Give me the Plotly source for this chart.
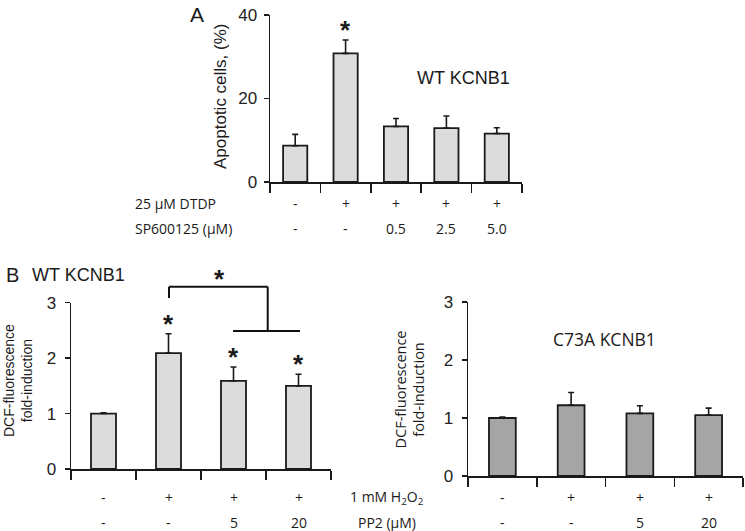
import plotly.graph_objects as go

W, H = 745, 531

# ---------------- data ----------------
a_values = [8.7, 30.8, 13.3, 12.9, 11.6]
a_err = [2.7, 3.2, 1.9, 2.9, 1.4]
a_sig = [False, True, False, False, False]
a_dtdp = ["-", "+", "+", "+", "+"]
a_sp = ["-", "-", "0.5", "2.5", "5.0"]
a_yticks = [0, 20, 40]

wt_values = [1.0, 2.09, 1.59, 1.50]
wt_err = [0.015, 0.35, 0.25, 0.21]
wt_sig = [False, True, True, True]

c73_values = [1.0, 1.22, 1.08, 1.05]
c73_err = [0.015, 0.22, 0.13, 0.12]

b_h2o2 = ["-", "+", "+", "+"]
b_pp2 = ["-", "-", "5", "20"]
b_yticks = [0, 1, 2, 3]

# ---------------- helpers ----------------
def px(x):
    return x / W

def py(y):
    return 1 - y / H

AX = "#1a1a1a"
LIGHT = "#dcdcdc"
DARK = "#a5a5a5"
FONT_NUM = "Liberation Sans, Arial, sans-serif"
FONT_LBL = "Open Sans, Noto Sans, sans-serif"
LBL = 14

fig = go.Figure()

def bars(values, err, color, xa, ya, width):
    fig.add_trace(go.Bar(
        x=list(range(len(values))), y=values,
        width=width,
        marker=dict(color=color, line=dict(color=AX, width=1.8)),
        error_y=dict(type="data", array=err, arrayminus=[0] * len(err),
                     symmetric=False, color=AX, thickness=1.6, width=3),
        xaxis=xa, yaxis=ya, showlegend=False, hoverinfo="skip",
    ))

bars(a_values, a_err, LIGHT, "x", "y", 0.48)
bars(wt_values, wt_err, LIGHT, "x2", "y2", 0.385)
bars(c73_values, c73_err, DARK, "x3", "y3", 0.39)

def xaxis_cfg(n, dom, anchor):
    return dict(domain=dom, range=[-0.5, n - 0.5], tickvals=[i - 0.5 for i in range(n + 1)],
                showticklabels=False, ticks="outside", ticklen=9, tickwidth=1.5,
                tickcolor=AX, showline=True, linecolor=AX, linewidth=1.5,
                showgrid=False, zeroline=False, fixedrange=True, automargin=False,
                anchor=anchor)

def yaxis_cfg(rng, tv, dom, anchor, standoff):
    return dict(domain=dom, range=rng, tickvals=tv, ticks="outside", ticklen=5,
                tickwidth=1.5, tickcolor=AX, showline=True, linecolor=AX, linewidth=1.5,
                showgrid=False, zeroline=False, anchor=anchor, automargin=False,
                ticklabelstandoff=standoff,
                tickfont=dict(family=FONT_NUM, size=17, color="#222"), fixedrange=True)

fig.update_layout(
    template="none",
    width=W, height=H, margin=dict(l=0, r=0, t=0, b=0, pad=0, autoexpand=False),
    paper_bgcolor="white", plot_bgcolor="white", bargap=0,
    xaxis=xaxis_cfg(5, [px(270), px(522)], "y"),
    yaxis=yaxis_cfg([0, 40], a_yticks, [py(182), py(15)], "x", 3),
    xaxis2=xaxis_cfg(4, [px(71), px(331)], "y2"),
    yaxis2=yaxis_cfg([0, 3], b_yticks, [py(469), py(302.7)], "x2", 5),
    xaxis3=xaxis_cfg(4, [px(468), px(743)], "y3"),
    yaxis3=yaxis_cfg([0, 3], b_yticks, [py(476), py(302)], "x3", 5),
)

ann = []

def text(x, y, t, size, family=FONT_LBL, xref="paper", yref="paper", xanchor="center",
         yanchor="middle", angle=0, color="#1a1a1a", yshift=0):
    ann.append(dict(x=x, y=y, text=t, xref=xref, yref=yref, showarrow=False,
                    xanchor=xanchor, yanchor=yanchor, textangle=angle, yshift=yshift,
                    font=dict(family=family, size=size, color=color)))

STAR = "<b>*</b>"

# Panel A
text(px(197), py(14), "A", 21, FONT_NUM)
text(px(220), py(96), "Apoptotic cells, (%)", 17, FONT_NUM, angle=-90)
text(px(463), py(78), "WT KCNB1", 18, FONT_NUM)
for i, s in enumerate(a_sig):
    if s:
        text(i, a_values[i] + a_err[i], STAR, 26, FONT_NUM, xref="x", yref="y",
             yanchor="bottom", yshift=-7)
text(px(133), py(203), "25 µM DTDP", LBL, xanchor="left")
text(px(133), py(228), "SP600125 (µM)", LBL, xanchor="left")
for i, (d, s) in enumerate(zip(a_dtdp, a_sp)):
    text(i, py(203), d, LBL, xref="x")
    text(i, py(228), s, LBL, xref="x")

# Panel B
text(px(12), py(275), "B", 20, FONT_NUM)
text(px(78), py(275), "WT KCNB1", 18, FONT_NUM)
text(px(18), py(381), "DCF-fluorescence<br>fold-induction", 14, FONT_NUM, angle=-90)
text(px(409.5), py(390), "DCF-fluorescence<br>fold-induction", 14.5, FONT_LBL, angle=-90)
text(px(604), py(339), "C73A KCNB1", 17.5)
for i, s in enumerate(wt_sig):
    if s:
        text(i, wt_values[i] + wt_err[i], STAR, 26, FONT_NUM, xref="x2", yref="y2",
             yanchor="bottom", yshift=-7)
text(px(219), py(279), STAR, 26, FONT_NUM)
text(px(387), py(497), "1 mM H<sub>2</sub>O<sub>2</sub>", LBL)
text(px(387), py(522), "PP2 (µM)", LBL)
for i, (h, p) in enumerate(zip(b_h2o2, b_pp2)):
    for xr in ("x2", "x3"):
        text(i, py(497), h, LBL, xref=xr)
        text(i, py(522), p, LBL, xref=xr)

fig.update_layout(annotations=ann)

# bracket (pixel positions -> paper)
seg = [((169, 298), (169, 286.7)), ((169, 286.7), (267.7, 286.7)),
       ((267.7, 286.7), (267.7, 331)), ((233, 331), (300, 331))]
for (x0, y0), (x1, y1) in seg:
    fig.add_shape(type="line", xref="paper", yref="paper",
                  x0=px(x0), y0=py(y0), x1=px(x1), y1=py(y1),
                  line=dict(color="#111", width=2))

fig.write_html("out.html",
               config={"displayModeBar": False, "staticPlot": True},
               post_script="document.body.style.margin='0px';"
                           "document.body.style.overflow='hidden';")
